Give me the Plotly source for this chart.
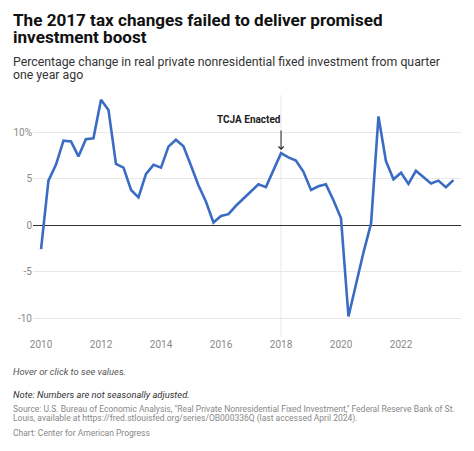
import pandas as pd
import plotly.graph_objects as go

# ---- data ----
start_quarter = "2010-01-01"
pct_change = [
    -2.55, 4.8, 6.5, 9.1,      # 2010
    9.0, 7.4, 9.25, 9.35,      # 2011
    13.5, 12.4, 6.6, 6.2,      # 2012
    3.8, 3.0, 5.5, 6.5,        # 2013
    6.2, 8.45, 9.2, 8.5,       # 2014
    6.4, 4.3, 2.55, 0.3,       # 2015
    1.0, 1.2, 2.1, 2.9,        # 2016
    3.6, 4.4, 4.1, 5.95,       # 2017
    7.75, 7.3, 6.95, 5.75,     # 2018
    3.8, 4.2, 4.4, 2.7,        # 2019
    0.75, -9.8, -6.35, -2.9,   # 2020
    0.2, 11.7, 6.9, 4.95,      # 2021
    5.65, 4.45, 5.85, 5.2,     # 2022
    4.5, 4.8, 4.1, 4.85,       # 2023
]
quarters = pd.date_range(start_quarter, periods=len(pct_change), freq="QS")

y_tick_vals = [-10, -5, 0, 5, 10]
y_tick_text = ["-10", "-5", "0", "5", "10%"]
x_tick_vals = ["2010-01-01", "2012-01-01", "2014-01-01", "2016-01-01",
               "2018-01-01", "2020-01-01", "2022-01-01"]
x_tick_text = ["2010", "2012", "2014", "2016", "2018", "2020", "2022"]

event_date = "2018-01-01"
event_label = "TCJA Enacted"
event_value = 8.1

title_lines = ["The 2017 tax changes failed to deliver promised", "investment boost"]
subtitle_lines = ["Percentage change in real private nonresidential fixed investment from quarter",
                  "one year ago"]
hover_note = "Hover or click to see values."
note = "Note: Numbers are not seasonally adjusted."
source_lines = ['Source: U.S. Bureau of Economic Analysis, "Real Private Nonresidential Fixed Investment," Federal Reserve Bank of St.',
                "Louis, available at https://fred.stlouisfed.org/series/OB000336Q (last accessed April 2024)."]
credit = "Chart: Center for American Progress"

# ---- layout geometry (pixels) ----
WIDTH, HEIGHT = 474, 451
L, R, T, B = 33, 461, 95.1, 337.1
PW, PH = R - L, B - T

def px(x):
    return (x - L) / PW

def py(y):
    return (B - y) / PH

FONT = "Roboto"
fig = go.Figure()
fig.add_trace(go.Scatter(
    x=quarters, y=pct_change, mode="lines",
    line=dict(color="#3b6cc4", width=2.6),
    hovertemplate="%{x|%Y Q%q}: %{y:.1f}%<extra></extra>",
))

fig.add_shape(type="line", xref="x", yref="paper", x0=event_date, x1=event_date,
              y0=0, y1=1, line=dict(color="#e8e8e8", width=1), layer="below")

ann = []
# event arrow
ann.append(dict(x=event_date, y=event_value, xref="x", yref="y", text="",
                showarrow=True, arrowhead=4, arrowsize=1, arrowwidth=1,
                arrowcolor="#222", ax=0, ay=-21))
ann.append(dict(x=event_date, y=event_value, xref="x", yref="y", text="<b>" + event_label + "</b>",
                showarrow=False, xanchor="right", yanchor="bottom", xshift=2, yshift=23,
                font=dict(family=FONT, size=10, color="#222")))

def text_line(txt, x, y, size, color, bold=False, italic=False):
    if bold:
        txt = "<b>" + txt + "</b>"
    if italic:
        txt = "<i>" + txt + "</i>"
    ann.append(dict(x=px(x), y=py(y), xref="paper", yref="paper", text=txt,
                    showarrow=False, xanchor="left", yanchor="middle",
                    font=dict(family=FONT, size=size, color=color)))

text_line(title_lines[0], 11, 20, 17.1, "#111", bold=True)
text_line(title_lines[1], 11, 37, 17.1, "#111", bold=True)
text_line(subtitle_lines[0], 11, 62, 12.3, "#333")
text_line(subtitle_lines[1], 11, 75, 12.3, "#333")
text_line(hover_note, 11, 372, 9.4, "#555", italic=True)
text_line(note, 11, 395, 9.4, "#333", italic=True)
text_line(source_lines[0], 11, 409, 8.5, "#888")
text_line(source_lines[1], 11, 419, 8.5, "#888")
text_line(credit, 11, 433.5, 8.5, "#888")

fig.update_layout(
    width=WIDTH, height=HEIGHT,
    margin=dict(l=L, r=WIDTH - R, t=T, b=HEIGHT - B, pad=0),
    paper_bgcolor="white", plot_bgcolor="white",
    showlegend=False,
    annotations=ann,
    font=dict(family=FONT),
    hovermode="closest",
)
fig.update_xaxes(
    range=["2009-09-25", "2024-01-01"], tickvals=x_tick_vals, ticktext=x_tick_text,
    showgrid=False, zeroline=False, showline=False, ticks="",
    tickfont=dict(family=FONT, size=10, color="#888"),
)
fig.update_yaxes(
    range=[-12, 14], tickvals=y_tick_vals, ticktext=y_tick_text,
    showgrid=True, gridcolor="#e8e8e8", gridwidth=1,
    zeroline=True, zerolinecolor="#333", zerolinewidth=1,
    showline=False, ticks="",
    tickfont=dict(family=FONT, size=10, color="#888"),
)

fig.write_html("out.html", config={"displayModeBar": False},
               post_script="document.body.style.margin='0';document.body.style.padding='0';")
